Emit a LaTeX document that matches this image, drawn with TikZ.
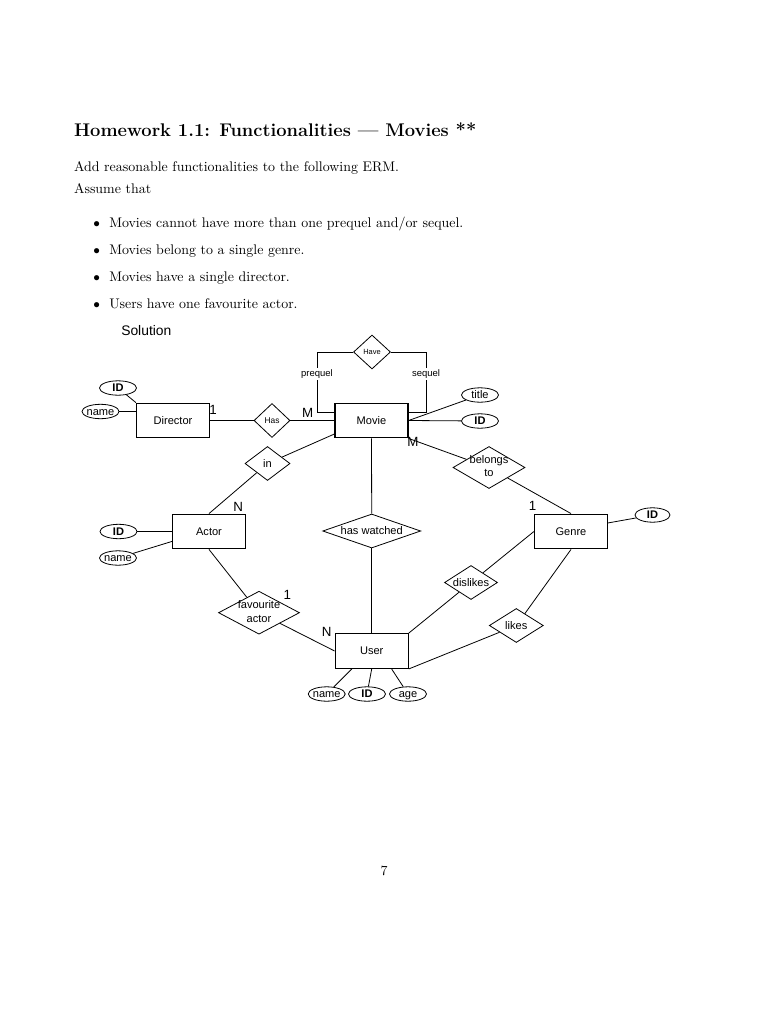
\documentclass[tikz,border=0pt]{standalone}
\usepackage{fontspec}
\usetikzlibrary{shapes.geometric}
\newfontfamily\arialf{Liberation Sans}
\newcommand\erfont{\arialf\fontsize{8.3}{10}\selectfont}
\newcommand\smallerfont{\arialf\fontsize{5.6}{7}\selectfont}
\newcommand\hasfont{\arialf\fontsize{6.3}{7.5}\selectfont}
\newcommand\rolefont{\arialf\fontsize{7.1}{8.5}\selectfont}
\newcommand\cardfont{\arialf\fontsize{10}{12}\selectfont}
\newcommand\er[1]{\makebox[0pt]{\smash{#1}}\vphantom{A}}
\newcommand\ertwo[2]{\makebox[0pt]{\begin{tabular}{@{}c@{}}#1\\#2\end{tabular}}}
\begin{document}
\begin{tikzpicture}[x=0.75pt,y=-0.75pt,
  every node/.style={inner sep=0pt},
  ent/.style={draw, line width=0.9pt, rectangle, minimum width=54.75pt, minimum height=26pt, font=\erfont},
  rel/.style={draw, line width=0.6pt, diamond, font=\erfont},
  attr/.style={draw, line width=0.6pt, ellipse, minimum width=27.75pt, minimum height=10.8pt, font=\erfont},
  card/.style={font=\cardfont},
  conn/.style={line width=0.6pt},
  rolelbl/.style={fill=white, font=\rolefont, inner sep=1pt},
  bodytext/.style={anchor=base west, font=\fontsize{10.45}{12.5}\selectfont}
]
\path[use as bounding box] (0,0) rectangle (768,1024);

% ---- text ----
\node[anchor=base west, font=\fontsize{13.75}{16.5}\selectfont\bfseries] (title) at (73.8,136.5) {Homework 1.1: Functionalities --- Movies **};
\node[bodytext] (intro) at (73.8,171.7) {Add reasonable functionalities to the following ERM.};
\node[bodytext] (assume) at (73.8,193.3) {Assume that};
\node[anchor=base, font=\fontsize{10.45}{12.5}\selectfont] (bul1) at (96.7,227.3) {$\bullet$};
\node[bodytext] (item1) at (109,227.3) {Movies cannot have more than one prequel and/or sequel.};
\node[anchor=base, font=\fontsize{10.45}{12.5}\selectfont] (bul2) at (96.7,254.3) {$\bullet$};
\node[bodytext] (item2) at (109,254.3) {Movies belong to a single genre.};
\node[anchor=base, font=\fontsize{10.45}{12.5}\selectfont] (bul3) at (96.7,281) {$\bullet$};
\node[bodytext] (item3) at (109,281) {Movies have a single director.};
\node[anchor=base, font=\fontsize{10.45}{12.5}\selectfont] (bul4) at (96.7,308.3) {$\bullet$};
\node[bodytext] (item4) at (109,308.3) {Users have one favourite actor.};
\node[anchor=base west, font=\arialf\fontsize{10.4}{12}\selectfont] (solution) at (121,335.7) {Solution};
\node[anchor=base, font=\fontsize{10.45}{12.5}\selectfont] (pagenum) at (384,875) {7};

% ---- entities ----
\node[ent] (director) at (173,420.5) {Director};
\node[ent] (movie) at (371.5,420.5) {Movie};
\node[ent] (actor) at (209,531.5) {Actor};
\node[ent] (genre) at (571,531.5) {Genre};
\node[ent] (user) at (371.7,651) {User};

% ---- relationships ----
\node[rel, minimum width=27.75pt, minimum height=25.5pt, font=\smallerfont] (have) at (372,352) {\er{Have}};
\node[rel, minimum width=27pt, minimum height=25.5pt, font=\hasfont] (has) at (272,420.5) {\er{Has}};
\node[rel, minimum width=33.75pt, minimum height=25.5pt] (in) at (267.5,463.5) {\er{in}};
\node[rel, minimum width=54pt, minimum height=31.5pt] (belongs) at (489,467.5) {\ertwo{belongs}{to}};
\node[rel, minimum width=73.5pt, minimum height=25.5pt] (watched) at (371.7,531) {\er{has watched}};
\node[rel, minimum width=60.75pt, minimum height=32.25pt] (fav) at (259,612.7) {\ertwo{favourite}{actor}};
\node[rel, minimum width=39.75pt, minimum height=25.5pt] (dislikes) at (471,582.5) {\er{dislikes}};
\node[rel, minimum width=40.5pt, minimum height=25.5pt] (likes) at (516.3,625.5) {\er{likes}};

% ---- attributes ----
\node[attr] (did) at (118,388) {\er{\bfseries ID}};
\node[attr] (dname) at (100.5,411.5) {\er{name}};
\node[attr] (mtitle) at (480,395) {\er{title}};
\node[attr] (mid) at (480,421) {\er{\bfseries ID}};
\node[attr, minimum width=26.25pt] (gid) at (652.5,515) {\er{\bfseries ID}};
\node[attr] (aid) at (118.5,531.5) {\er{\bfseries ID}};
\node[attr] (aname) at (118,558) {\er{name}};
\node[attr] (uname) at (326.7,694) {\er{name}};
\node[attr] (uid) at (367,694) {\er{\bfseries ID}};
\node[attr] (uage) at (408,694) {\er{age}};

% ---- connectors ----
\coordinate (pq) at (317,412);
\coordinate (sq) at (426,412);
\draw[conn] (have.west) -| (pq) -- (pq -| movie.west);
\draw[conn] (have.east) -| (sq) -- (sq -| movie.east);
\node[rolelbl] (prequel) at (317,374) {prequel};
\node[rolelbl] (sequel) at (426,374) {sequel};

\draw[conn] (director.east) -- (has.west);
\draw[conn] (has.east) -- (movie.west);
\draw[conn] (did) -- (director.north west);
\draw[conn] (dname) -- (director.west |- dname);
\draw[conn] (movie.east) -- (mtitle);
\draw[conn] (movie.east) -- (mid);
\draw[conn] (movie.south east) -- (belongs);
\draw[conn] (belongs) -- (genre.north);
\draw[conn] (genre.13) -- (gid);
\draw[conn] (movie.200) -- (in);
\draw[conn] (in) -- (actor.north);
\draw[conn] (aid) -- (actor.west);
\draw[conn] (aname) -- (actor.195);
\draw[conn] (actor.south) -- (fav);
\draw[conn] (fav) -- (user.west);
\draw[conn] (movie.south) -- (watched.north);
\draw[conn] (watched.south) -- (user.north);
\draw[conn] (user.north east) -- (dislikes);
\draw[conn] (dislikes) -- (genre.west);
\draw[conn] (genre.south) -- (likes);
\draw[conn] (likes) -- (user.south east);
\draw[conn] (user.222) -- (uname);
\draw[conn] (user.south) -- (uid);
\draw[conn] (user.318) -- (uage);

% ---- cardinalities ----
\node[card] (c1) at (213,410) {1};
\node[card] (c2) at (307.7,412.7) {M};
\node[card] (c3) at (413,442) {M};
\node[card] (c4) at (532.7,506) {1};
\node[card] (c5) at (238.3,507.3) {N};
\node[card] (c6) at (287.3,595) {1};
\node[card] (c7) at (326.7,631.7) {N};
\end{tikzpicture}
\end{document}
